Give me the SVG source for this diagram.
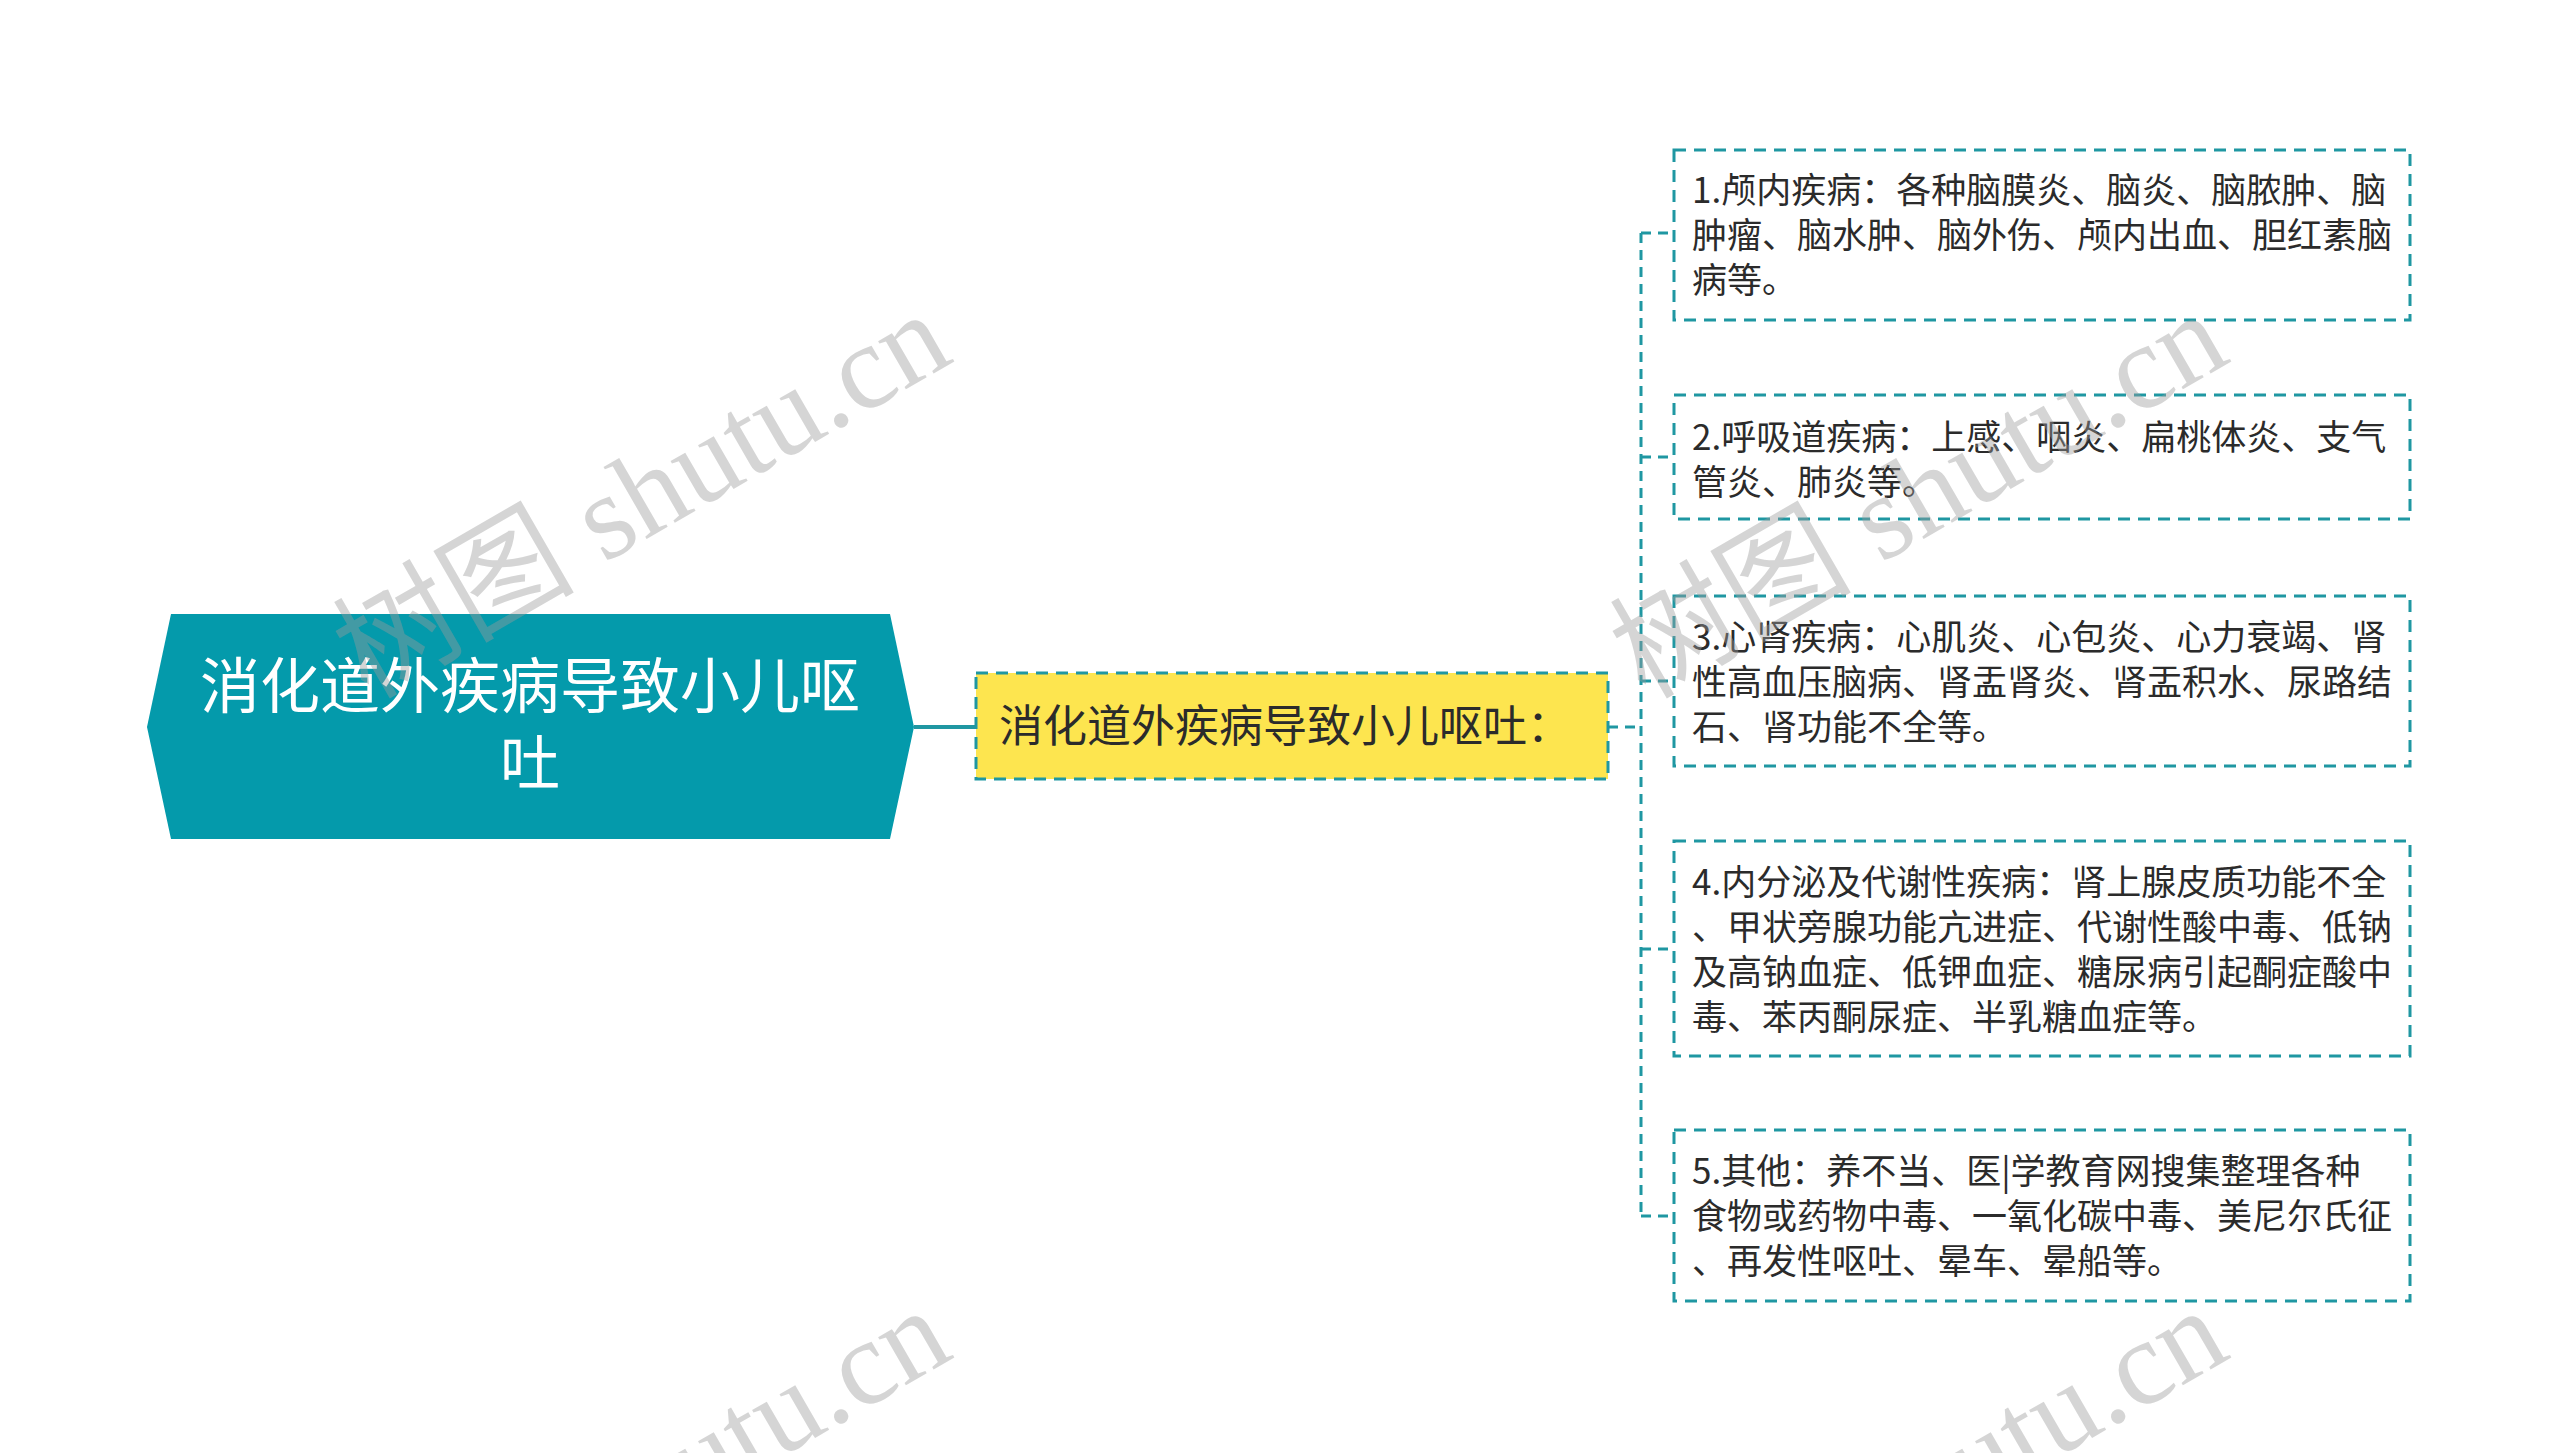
<svg xmlns="http://www.w3.org/2000/svg" width="2560" height="1453" viewBox="0 0 2560 1453">
<style>
.conn{fill:none;stroke:#1f97a2;stroke-width:3;stroke-dasharray:10 7}
.solid{fill:none;stroke:#1f97a2;stroke-width:4}
.box{fill:#ffffff;stroke:#1f97a2;stroke-width:3;stroke-dasharray:12 8}
.t{font-family:"Noto Sans CJK SC","Noto Sans",sans-serif;font-size:35px;fill:#2b2b2b}
.wm{font-family:"Liberation Serif","Noto Sans CJK SC",serif;font-size:121px;fill:#9a9a9a;fill-opacity:0.42}
</style>
<rect width="2560" height="1453" fill="#ffffff"/>
<g id="connectors">
<line class="solid" x1="914" y1="727" x2="976" y2="727"/>
<line class="conn" x1="1608" y1="727" x2="1641" y2="727"/>
<line class="conn" x1="1641" y1="233" x2="1641" y2="1216"/>
<line class="conn" x1="1641" y1="233" x2="1674" y2="233"/>
<line class="conn" x1="1641" y1="457" x2="1674" y2="457"/>
<line class="conn" x1="1641" y1="681" x2="1674" y2="681"/>
<line class="conn" x1="1641" y1="949" x2="1674" y2="949"/>
<line class="conn" x1="1641" y1="1216" x2="1674" y2="1216"/>
</g>
<g id="root">
<polygon points="171,614 890,614 914,727 890,839 171,839 147,727" fill="#049aab"/>
<text x="530" y="708" text-anchor="middle" font-family="Noto Sans CJK SC,sans-serif" font-size="60" fill="#ffffff">消化道外疾病导致小儿呕</text>
<text x="530" y="785" text-anchor="middle" font-family="Noto Sans CJK SC,sans-serif" font-size="60" fill="#ffffff">吐</text>
</g>
<g id="sub">
<rect x="976" y="673" width="632" height="106" fill="#fde54f" stroke="#1f97a2" stroke-width="3" stroke-dasharray="12 8"/>
<text x="999" y="742" font-family="Noto Sans CJK SC,sans-serif" font-size="44" fill="#2b2b2b">消化道外疾病导致小儿呕吐：</text>
</g>
<g id="n1">
<rect class="box" x="1674" y="150" width="736" height="170"/>
<text class="t" x="1692" y="203">1.颅内疾病：各种脑膜炎、脑炎、脑脓肿、脑</text>
<text class="t" x="1692" y="248">肿瘤、脑水肿、脑外伤、颅内出血、胆红素脑</text>
<text class="t" x="1692" y="293">病等。</text>
</g>
<g id="n2">
<rect class="box" x="1674" y="395" width="736" height="124"/>
<text class="t" x="1692" y="450">2.呼吸道疾病：上感、咽炎、扁桃体炎、支气</text>
<text class="t" x="1692" y="495">管炎、肺炎等。</text>
</g>
<g id="n3">
<rect class="box" x="1674" y="596" width="736" height="170"/>
<text class="t" x="1692" y="650">3.心肾疾病：心肌炎、心包炎、心力衰竭、肾</text>
<text class="t" x="1692" y="695">性高血压脑病、肾盂肾炎、肾盂积水、尿路结</text>
<text class="t" x="1692" y="740">石、肾功能不全等。</text>
</g>
<g id="n4">
<rect class="box" x="1674" y="841" width="736" height="215"/>
<text class="t" x="1692" y="895">4.内分泌及代谢性疾病：肾上腺皮质功能不全</text>
<text class="t" x="1692" y="940">、甲状旁腺功能亢进症、代谢性酸中毒、低钠</text>
<text class="t" x="1692" y="985">及高钠血症、低钾血症、糖尿病引起酮症酸中</text>
<text class="t" x="1692" y="1030">毒、苯丙酮尿症、半乳糖血症等。</text>
</g>
<g id="n5">
<rect class="box" x="1674" y="1130" width="736" height="171"/>
<text class="t" x="1692" y="1184">5.其他：养不当、医|学教育网搜集整理各种</text>
<text class="t" x="1692" y="1229">食物或药物中毒、一氧化碳中毒、美尼尔氏征</text>
<text class="t" x="1692" y="1274">、再发性呕吐、晕车、晕船等。</text>
</g>
<g id="watermark">
<text class="wm" transform="translate(368,700) rotate(-30)">树图 shutu.cn</text>
<text class="wm" transform="translate(1645,700) rotate(-30)">树图 shutu.cn</text>
<text class="wm" transform="translate(368,1696) rotate(-30)">树图 shutu.cn</text>
<text class="wm" transform="translate(1645,1696) rotate(-30)">树图 shutu.cn</text>
</g>
</svg>
